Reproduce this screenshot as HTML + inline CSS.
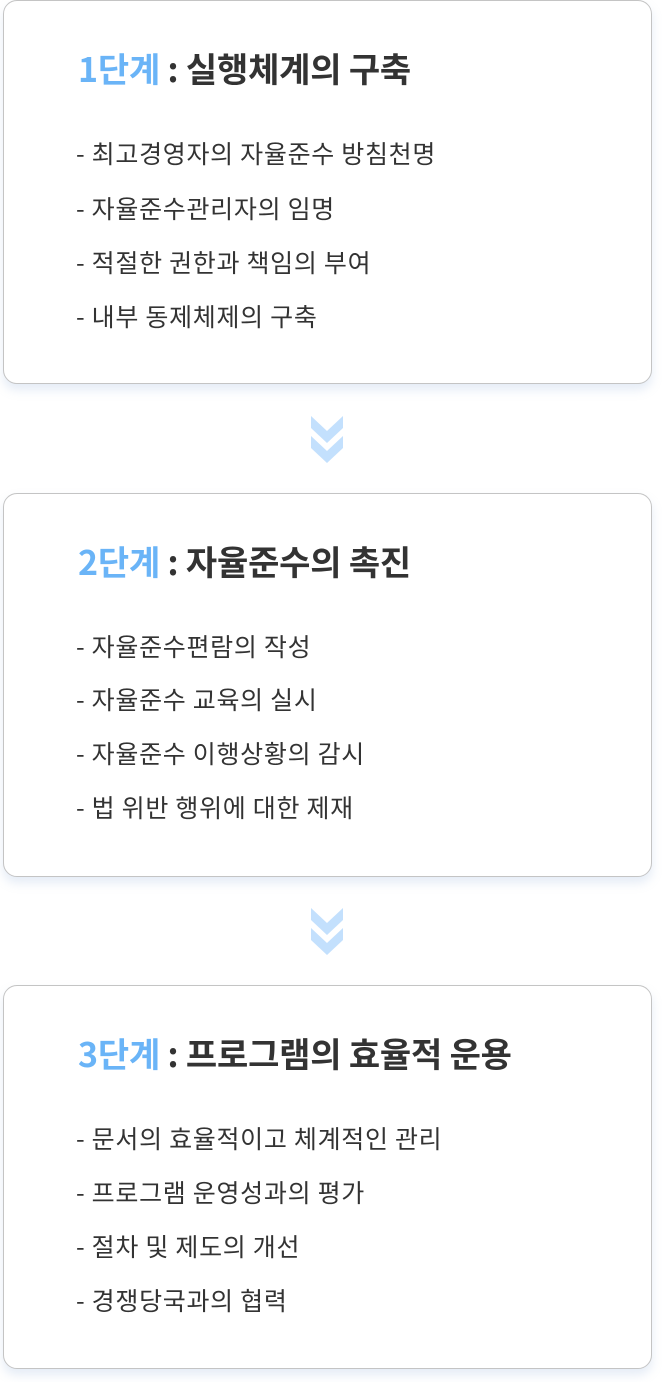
<!DOCTYPE html>
<html><head><meta charset="utf-8"><style>
*{margin:0;padding:0;box-sizing:border-box}
body{width:662px;height:1382px;background:#fff;position:relative;font-family:"Noto Sans CJK KR","Liberation Sans",sans-serif;overflow:hidden}
.box{position:absolute;left:3px;width:649px;height:384px;border:1px solid #c4c4c4;border-radius:14px;background:#fff;box-shadow:0 6px 10px rgba(150,180,220,0.25)}
.t{position:absolute;left:74px;top:47px;font-size:34px;font-weight:bold;color:#333;line-height:40px;letter-spacing:-0.2px;white-space:nowrap}
.t span{color:#6ab4f7}
.it{position:absolute;left:72px;font-size:25px;color:#333;line-height:28px;letter-spacing:0.7px;white-space:nowrap}
.chev{position:absolute;left:310px;width:34px;height:48px}
</style></head><body>
<div class="box" style="top:0">
<div class="t"><span>1단계</span> : 실행체계의 구축</div>
<div class="it" style="top:138px">- 최고경영자의 자율준수 방침천명</div>
<div class="it" style="top:193px">- 자율준수관리자의 임명</div>
<div class="it" style="top:247px">- 적절한 권한과 책임의 부여</div>
<div class="it" style="top:301px">- 내부 동제체제의 구축</div>
</div>
<svg class="chev" style="top:416px" viewBox="0 0 34 48"><path d="M1 0 L17 15 L33 0 L33 12 L17 27 L1 12Z M1 20 L17 35 L33 20 L33 32 L17 47 L1 32Z" fill="#c3e0fd"/></svg>
<div class="box" style="top:493px">
<div class="t"><span>2단계</span> : 자율준수의 촉진</div>
<div class="it" style="top:138px">- 자율준수편람의 작성</div>
<div class="it" style="top:191px">- 자율준수 교육의 실시</div>
<div class="it" style="top:245px">- 자율준수 이행상황의 감시</div>
<div class="it" style="top:299px">- 법 위반 행위에 대한 제재</div>
</div>
<svg class="chev" style="top:908px" viewBox="0 0 34 48"><path d="M1 0 L17 15 L33 0 L33 12 L17 27 L1 12Z M1 20 L17 35 L33 20 L33 32 L17 47 L1 32Z" fill="#c3e0fd"/></svg>
<div class="box" style="top:985px">
<div class="t"><span>3단계</span> : 프로그램의 효율적 운용</div>
<div class="it" style="top:138px">- 문서의 효율적이고 체계적인 관리</div>
<div class="it" style="top:192px">- 프로그램 운영성과의 평가</div>
<div class="it" style="top:246px">- 절차 및 제도의 개선</div>
<div class="it" style="top:300px">- 경쟁당국과의 협력</div>
</div>
</body></html>
